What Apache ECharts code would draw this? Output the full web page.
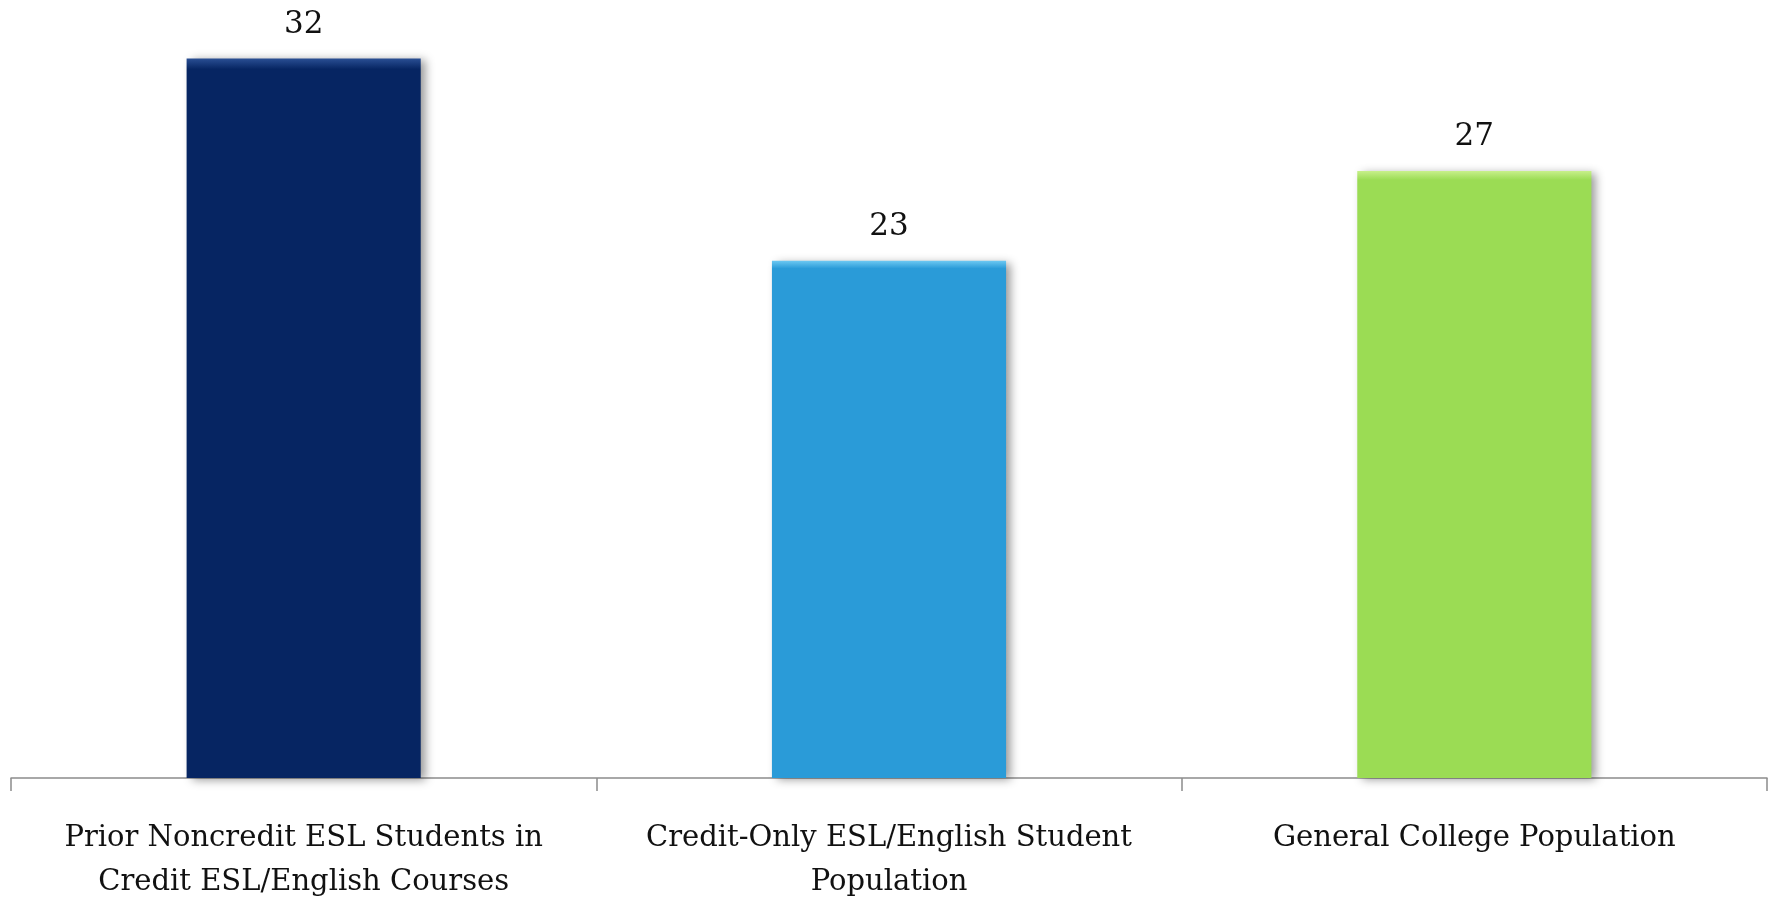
<!DOCTYPE html>
<html>
<head>
<meta charset="utf-8">
<script src="https://cdn.jsdelivr.net/npm/echarts@6/dist/echarts.min.js"></script>
<style>
  html, body { margin: 0; padding: 0; background: #fff; }
  #maindiv { width: 1777px; height: 907px; }
</style>
</head>
<body>
<div id="maindiv"></div>
<script>
// data
var categories = [
    'Prior Noncredit ESL Students in\nCredit ESL/English Courses',
    'Credit-Only ESL/English Student\nPopulation',
    'General College Population'
];
var values = [32, 23, 27];
var barColors = ['#062562', '#2a9bd8', '#9bdc54'];
var topColors = ['#2a4f94', '#6cc8f2', '#c8f08c'];

var chart = echarts.init(document.getElementById('maindiv'));

var seriesData = values.map(function (v, i) {
    return {
        value: v,
        itemStyle: {
            color: new echarts.graphic.LinearGradient(0, 0, 0, 1, [
                { offset: 0, color: topColors[i] },
                { offset: 0.015, color: barColors[i] },
                { offset: 1, color: barColors[i] }
            ])
        }
    };
});

chart.setOption({
    backgroundColor: '#fff',
    animation: false,
    grid: { left: 11, right: 10, top: 0, bottom: 129, containLabel: false },
    xAxis: {
        type: 'category',
        data: categories,
        axisLine: { lineStyle: { color: '#8c8c8c', width: 1.5 } },
        axisTick: { show: true, interval: 0, alignWithLabel: false, length: 13, lineStyle: { color: '#8c8c8c', width: 1.5 } },
        axisLabel: {
            interval: 0,
            hideOverlap: false,
            margin: 38,
            color: '#111',
            fontFamily: '"DejaVu Serif", serif',
            fontSize: 29,
            lineHeight: 44
        }
    },
    yAxis: {
        type: 'value',
        min: 0,
        max: 34.6,
        show: false
    },
    series: [{
        type: 'bar',
        data: seriesData,
        barCategoryGap: '60%',
        itemStyle: {
            shadowColor: 'rgba(0,0,0,0.4)',
            shadowBlur: 9,
            shadowOffsetX: 5,
            shadowOffsetY: 2
        },
        label: {
            show: true,
            position: 'top',
            distance: 18,
            color: '#111',
            fontFamily: '"DejaVu Serif", serif',
            fontSize: 31
        }
    }]
});
</script>
</body>
</html>
